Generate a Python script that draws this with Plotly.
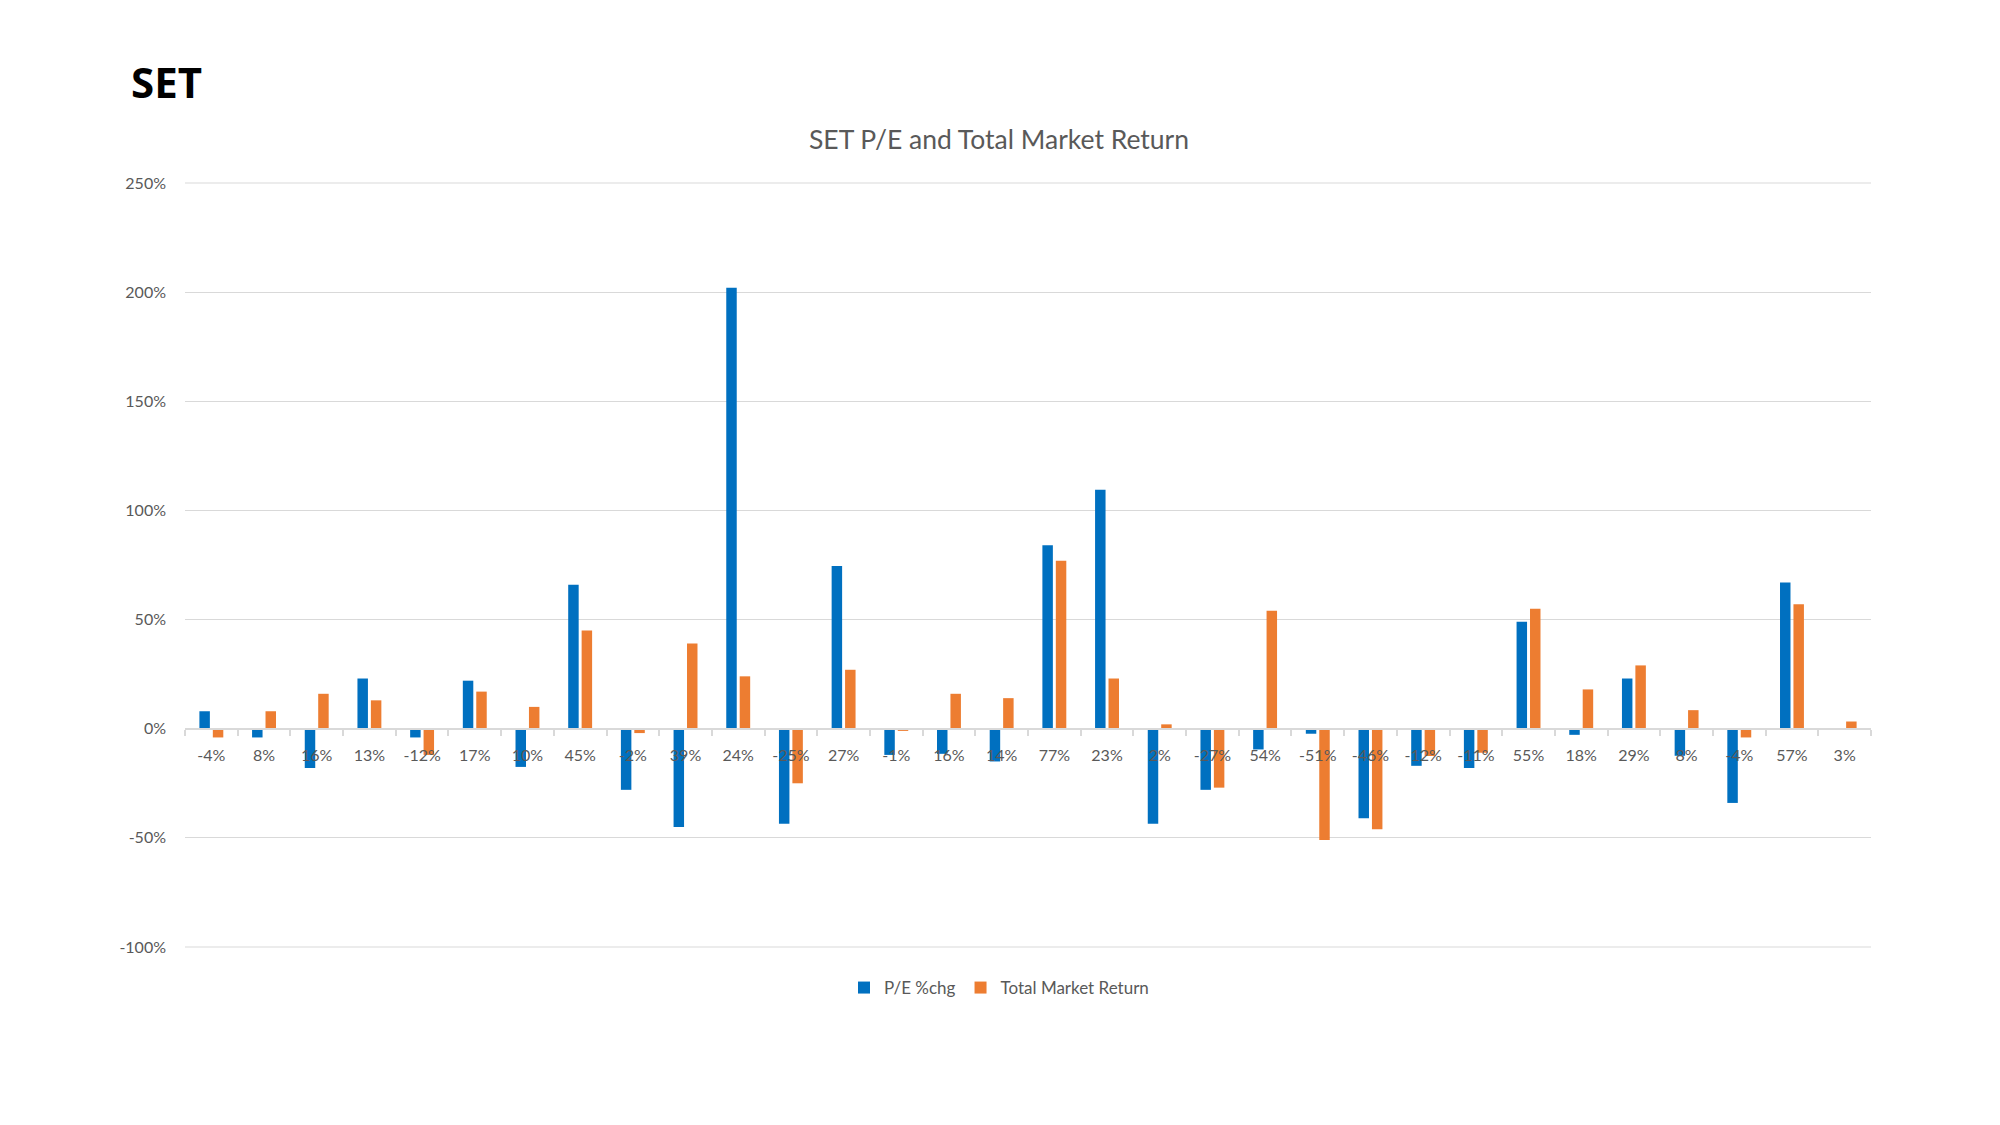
import plotly.graph_objects as go

# Category labels (total market return, rounded)
categories = ["-4%", "8%", "16%", "13%", "-12%", "17%", "10%", "45%", "-2%", "39%",
              "24%", "-25%", "27%", "-1%", "16%", "14%", "77%", "23%", "2%", "-27%",
              "54%", "-51%", "-46%", "-12%", "-11%", "55%", "18%", "29%", "8%", "-4%",
              "57%", "3%"]

# P/E % change (percent)
pe_chg = [8, -4, -18, 23, -4, 22, -17.5, 66, -28, -45,
          202, -43.5, 74.5, -12, -11.5, -15, 84, 109.5, -43.5, -28,
          -9.5, -2.3, -41, -17, -18, 49, -2.8, 23, -12.4, -34,
          67, 0]

# Total market return (percent)
tmr = [-4, 8, 16, 13, -12, 17, 10, 45, -2, 39,
       24, -25, 27, -1, 16, 14, 77, 23, 2, -27,
       54, -51, -46, -12.5, -11, 55, 18, 29, 8.5, -4,
       57, 3.3]

y_ticks = [-100, -50, 0, 50, 100, 150, 200, 250]

x = list(range(len(categories)))
grey_txt = "#595959"
grid_col = "#d9d9d9"
font_family = "Lato, Open Sans, sans-serif"

# figure is placed with an 8px page offset; size chosen so it fills the window
W, H = 1984, 1109
L, R, T, B = 177, 121, 174.7, 169.5
plot_w = W - L - R
plot_h = H - T - B

fig = go.Figure()
fig.add_trace(go.Bar(x=x, y=pe_chg, name="P/E %chg", marker_color="#0070C0",
                     marker_line_width=0))
fig.add_trace(go.Bar(x=x, y=tmr, name="Total Market Return", marker_color="#ED7D31",
                     marker_line_width=0))

y_min, y_max = y_ticks[0], y_ticks[-1]

# gridlines at the range ends (plotly skips grid lines on the plot edges)
for yv in (y_min, y_max):
    yp = (yv - y_min) / (y_max - y_min)
    fig.add_shape(type="line", xref="paper", yref="paper", x0=0, x1=1, y0=yp, y1=yp,
                  line=dict(color=grid_col, width=1), layer="below")

fig.update_layout(
    width=W, height=H,
    paper_bgcolor="white", plot_bgcolor="white",
    margin=dict(l=L, r=R, t=T, b=B, autoexpand=False),
    barmode="group", bargap=0.49, bargroupgap=0.22,
    font=dict(family=font_family, color=grey_txt, size=16),
    title=dict(text="SET P/E and Total Market Return",
               x=991 / W, xref="container", xanchor="center",
               y=1 - 132 / H, yref="container", yanchor="middle",
               font=dict(family=font_family, size=26.5, color=grey_txt)),
    legend=dict(orientation="h", xref="container", x=991 / W, xanchor="center",
                yref="container", y=1 - 980 / H, yanchor="middle",
                font=dict(size=17, color=grey_txt), traceorder="normal"),
    annotations=[dict(text="<b>SET</b>", xref="paper", yref="paper",
                      x=(121 - L) / plot_w, xanchor="left",
                      y=1 + (T - 73) / plot_h, yanchor="middle", showarrow=False,
                      font=dict(family="Open Sans, Lato, sans-serif", size=42, color="black"))],
    yaxis=dict(range=[y_min, y_max], tickvals=y_ticks,
               ticktext=[f"{v}%" for v in y_ticks],
               showgrid=True, gridcolor=grid_col, gridwidth=1,
               zeroline=False, showline=False, ticks="",
               ticklabelstandoff=18, automargin=False,
               tickfont=dict(size=16, color=grey_txt)),
    xaxis=dict(range=[-0.5, len(categories) - 0.5],
               tickvals=x, ticktext=categories, ticks="",
               anchor="free", position=(0 - y_min) / (y_max - y_min),
               showline=True, linecolor=grid_col, linewidth=2,
               showgrid=False, zeroline=False, automargin=False,
               ticklabelstandoff=12,
               tickfont=dict(size=16, color=grey_txt),
               minor=dict(tick0=-0.5, dtick=1, ticks="outside", ticklen=6,
                          tickcolor=grid_col, tickwidth=2, showgrid=False)),
)

fig.write_html("out.html")
